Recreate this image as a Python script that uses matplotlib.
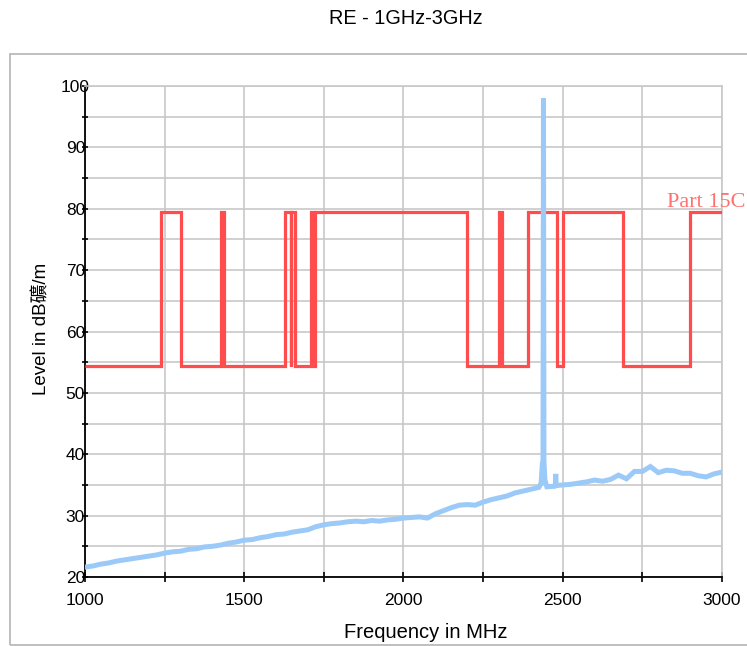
import matplotlib
matplotlib.use("Agg")
import matplotlib.pyplot as plt
from matplotlib.patches import Rectangle
from matplotlib.ticker import MultipleLocator

# ---- data ----
# limit line (Part 15C): band edges (MHz) and level in each band
limit_edges = [1000, 1240, 1300, 1427, 1435, 1626.5, 1645.5, 1646.5, 1660, 1710,
               1718.8, 1722.2, 2200, 2300, 2310, 2390, 2483.5, 2500, 2690, 2900, 3000]
limit_levels = [54.4, 79.5, 54.4, 79.5, 54.4, 79.5, 54.4, 79.5, 54.4, 79.5,
                54.4, 79.5, 54.4, 79.5, 54.4, 79.5, 54.4, 79.5, 54.4, 79.5]

# measured trace (MHz, dBuV/m)
meas_freq = [1000, 1025, 1050, 1075, 1100, 1125, 1150, 1175, 1200, 1225,
             1250, 1275, 1300, 1325, 1350, 1375, 1400, 1425, 1450, 1475,
             1500, 1525, 1550, 1575, 1600, 1625, 1650, 1675, 1700, 1725,
             1750, 1775, 1800, 1825, 1850, 1875, 1900, 1925, 1950, 1975,
             2000, 2025, 2050, 2075, 2100, 2125, 2150, 2175, 2200, 2225,
             2250, 2275, 2300, 2325, 2350, 2375, 2400, 2425, 2432, 2436,
             2438, 2439.5, 2441, 2444, 2450, 2475, 2477, 2478, 2479, 2500,
             2525, 2550, 2575, 2600, 2625, 2650, 2675, 2700, 2725, 2750,
             2775, 2800, 2825, 2850, 2875, 2900, 2925, 2950, 2975, 3000]
meas_level = [21.6, 21.8, 22.1, 22.3, 22.6, 22.8, 23.0, 23.2, 23.4, 23.6,
              23.9, 24.1, 24.2, 24.5, 24.6, 24.9, 25.0, 25.2, 25.5, 25.7,
              26.0, 26.1, 26.4, 26.6, 26.9, 27.0, 27.3, 27.5, 27.7, 28.2,
              28.5, 28.7, 28.8, 29.0, 29.1, 29.0, 29.2, 29.1, 29.3, 29.4,
              29.6, 29.7, 29.8, 29.6, 30.3, 30.8, 31.3, 31.7, 31.8, 31.7,
              32.2, 32.6, 32.9, 33.2, 33.7, 34.0, 34.3, 34.6, 35.3, 38.5,
              39.0, 98.0, 39.0, 35.8, 34.7, 34.8, 34.9, 36.8, 34.9, 35.0,
              35.1, 35.3, 35.5, 35.8, 35.6, 35.9, 36.6, 36.0, 37.2, 37.2,
              38.0, 37.0, 37.4, 37.3, 36.9, 36.9, 36.5, 36.3, 36.8, 37.1]

x_ticks = [1000, 1500, 2000, 2500, 3000]
y_ticks = [20, 30, 40, 50, 60, 70, 80, 90, 100]

title = "RE - 1GHz-3GHz"
x_label = "Frequency in MHz"
y_label = "Level in dB礦/m"
limit_name = "Part 15C"

# ---- figure ----
W, H = 747, 646
fig = plt.figure(figsize=(W / 100, H / 100), dpi=100)
fig.patch.set_facecolor("white")

# outer frame
fig.patches.append(Rectangle((10 / W, 1 - 645 / H), 760 / W, (645 - 54) / H,
                             transform=fig.transFigure, fill=False,
                             edgecolor="#b4b4b4", linewidth=1.2))

ax = fig.add_axes([85 / W, 1 - 577 / H, (722 - 85) / W, (577 - 86) / H])
ax.set_xlim(1000, 3000)
ax.set_ylim(20, 100)

ax.xaxis.set_major_locator(MultipleLocator(500))
ax.xaxis.set_minor_locator(MultipleLocator(250))
ax.yaxis.set_major_locator(MultipleLocator(10))
ax.yaxis.set_minor_locator(MultipleLocator(5))
ax.set_xticks(x_ticks)
ax.set_yticks(y_ticks)

grid_c = "#c8c8c8"
ax.grid(True, which="both", color=grid_c, linewidth=1.2)
ax.set_axisbelow(True)

for s in ["top", "right"]:
    ax.spines[s].set_color(grid_c)
    ax.spines[s].set_linewidth(1.2)
for s in ["left", "bottom"]:
    ax.spines[s].set_color("black")
    ax.spines[s].set_linewidth(1.3)

ax.tick_params(axis="y", which="both", direction="inout", length=5, width=1.2,
               pad=4.4, labelsize=12.5)
ax.tick_params(axis="x", which="both", direction="inout", length=7.2, width=1.2,
               pad=7.6, labelsize=12.5)
for lab in ax.get_yticklabels():
    lab.set_horizontalalignment("center")
    lab.set_fontfamily(["Liberation Sans", "DejaVu Sans"])
for lab in ax.get_xticklabels():
    lab.set_fontfamily(["Liberation Sans", "DejaVu Sans"])

# limit line
ax.stairs(limit_levels, limit_edges, color="#ff4d4d", linewidth=2.3,
          baseline=None, zorder=3)

# measurement
ax.plot(meas_freq, meas_level, color="#9ccaf8", linewidth=3.6, zorder=4,
        solid_joinstyle="miter")

ax.text(2827, 80.3, limit_name, color="#ff7070", fontsize=16,
        family=["Liberation Serif", "DejaVu Serif"], va="baseline", ha="left",
        clip_on=False)

fig.text(406 / W, 1 - 18 / H, title, ha="center", va="center", fontsize=14.3,
         family=["Liberation Sans", "DejaVu Sans"])
fig.text(426 / W, 1 - 632 / H, x_label, ha="center", va="center", fontsize=14.5,
         family=["Liberation Sans", "DejaVu Sans"])
fig.text(42 / W, 1 - 329 / H, y_label, ha="center", va="center", fontsize=13.5,
         rotation=90, family=["Liberation Sans", "Noto Sans CJK TC", "DejaVu Sans"])

fig.savefig("out.png", dpi=100)
